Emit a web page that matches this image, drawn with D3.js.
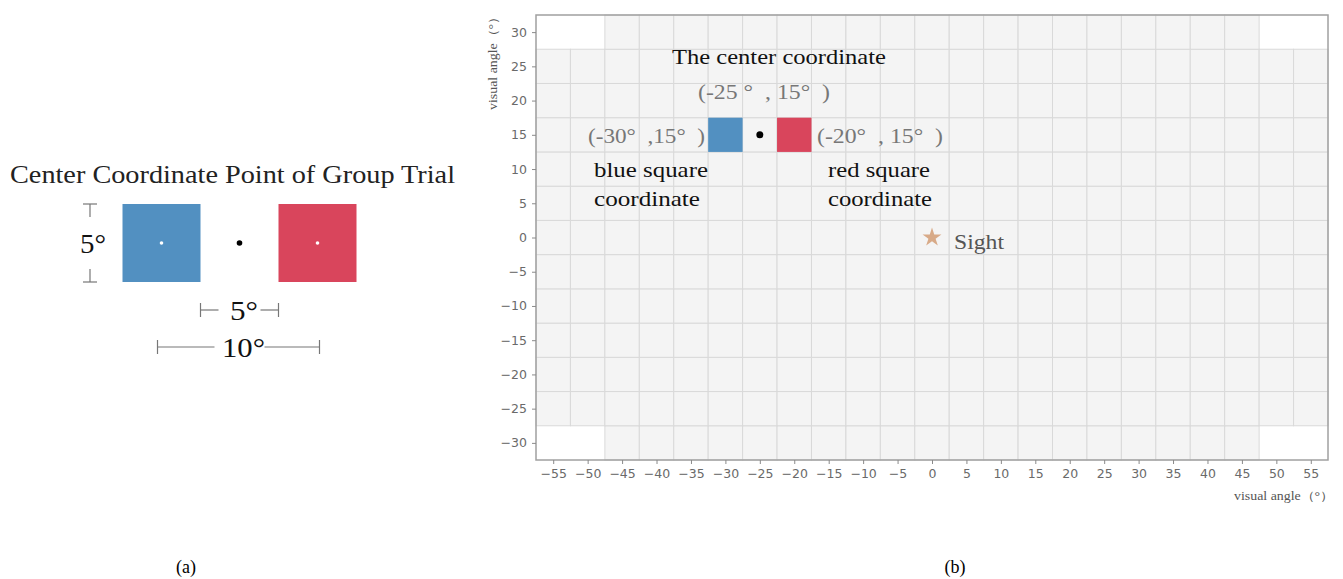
<!DOCTYPE html>
<html>
<head>
<meta charset="utf-8">
<script src="https://cdn.jsdelivr.net/npm/d3@7"></script>
<style>
  html, body { margin: 0; padding: 0; background: #fff; }
  svg { display: block; }
  text { white-space: pre; }
</style>
</head>
<body>
<svg id="chart" width="1343" height="579"></svg>
<script>
// Tick values of the visual-angle grid (degrees)
const xTicks = [-55, -50, -45, -40, -35, -30, -25, -20, -15, -10, -5, 0, 5, 10, 15, 20, 25, 30, 35, 40, 45, 50, 55];
const yTicks = [-30, -25, -20, -15, -10, -5, 0, 5, 10, 15, 20, 25, 30];
// Grid cells left empty in the four corners [x, y]
const emptyCells = [[-55, 30], [-50, 30], [50, 30], [55, 30], [-55, -30], [-50, -30], [50, -30], [55, -30]];
// Stimulus squares (centre, degrees) and their size
const squareNames = ["blue", "red"];
const squareX = [-30, -20];
const squareY = [15, 15];
const squareSize = 5;
// Centre point of the group trial and the sight point
const centerPoint = [-25, 15];
const sightPoint = [0, 0];
// Panel (a) schematic: square centres relative to the trial centre
const schemeX = [-5, 5];

const svg = d3.select("#chart");
const serif = "'Liberation Serif', 'DejaVu Serif', serif";
const sans = "'DejaVu Sans', sans-serif";
const colors = { blue: "#5290c1", red: "#d9455c" };

// text helper: fixed-width label in the old-style serif look
function label(g, tx, ty, s, opts = {}) {
  const t = g.append("text").attr("x", tx).attr("y", ty)
    .attr("text-anchor", opts.anchor || "start")
    .attr("font-family", opts.family || serif)
    .attr("font-size", opts.size || 20)
    .attr("fill", opts.fill || "#111")
    .text(s);
  if (opts.width) t.attr("textLength", opts.width).attr("lengthAdjust", "spacingAndGlyphs");
  if (opts.transform) t.attr("transform", opts.transform);
  return t;
}

// ---------- Panel (b): grid in visual angle ----------
const x = d3.scaleLinear().domain([-57.5, 57.5]).range([536, 1328]);
const y = d3.scaleLinear().domain([-32.5, 32.5]).range([460, 15]);
const half = 2.5;

const isEmpty = (cx, cy) => emptyCells.some(c => c[0] === cx && c[1] === cy);
const cells = [];
yTicks.forEach(cy => xTicks.forEach(cx => { if (!isEmpty(cx, cy)) cells.push([cx, cy]); }));

const gB = svg.append("g");
gB.selectAll("rect.cell").data(cells).join("rect")
  .attr("class", "cell")
  .attr("x", d => x(d[0] - half))
  .attr("y", d => y(d[1] + half))
  .attr("width", d => x(d[0] + half) - x(d[0] - half))
  .attr("height", d => y(d[1] - half) - y(d[1] + half))
  .attr("fill", "#f4f4f4")
  .attr("stroke", "#d9d9d9")
  .attr("stroke-width", 1);

// frame
gB.append("rect")
  .attr("x", x(-57.5)).attr("y", y(32.5))
  .attr("width", x(57.5) - x(-57.5)).attr("height", y(-32.5) - y(32.5))
  .attr("fill", "none").attr("stroke", "#a0a0a0").attr("stroke-width", 1.5);

// axes
const xAxis = gB.append("g").attr("transform", `translate(0,${y(-32.5)})`)
  .call(d3.axisBottom(x).tickValues(xTicks).tickSize(4).tickPadding(5).tickFormat(d3.format("d")));
const yAxis = gB.append("g").attr("transform", `translate(${x(-57.5)},0)`)
  .call(d3.axisLeft(y).tickValues(yTicks).tickSize(4).tickPadding(5).tickFormat(d3.format("d")));
[xAxis, yAxis].forEach(a => {
  a.select(".domain").remove();
  a.selectAll(".tick line").attr("stroke", "#8a8a8a");
  a.selectAll(".tick text").attr("fill", "#6a6a6a").attr("font-family", sans).attr("font-size", 12.5);
});

label(gB, 0, 0, "visual angle（°）", { anchor: "middle", size: 12, fill: "#555", width: 100,
  transform: "translate(497,60) rotate(-90)" });
label(gB, 1334, 500, "visual angle（°）", { anchor: "end", size: 12, fill: "#555", width: 100 });

// squares
const sq = squareNames.map((n, i) => ({ name: n, cx: squareX[i], cy: squareY[i] }));
gB.selectAll("rect.sq").data(sq).join("rect")
  .attr("class", "sq")
  .attr("x", d => x(d.cx - squareSize / 2))
  .attr("y", d => y(d.cy + squareSize / 2))
  .attr("width", d => x(d.cx + squareSize / 2) - x(d.cx - squareSize / 2))
  .attr("height", d => y(d.cy - squareSize / 2) - y(d.cy + squareSize / 2))
  .attr("fill", d => colors[d.name]);

gB.append("circle").attr("cx", x(centerPoint[0])).attr("cy", y(centerPoint[1])).attr("r", 3.5).attr("fill", "#000");

// sight star
gB.append("path")
  .attr("d", d3.symbol().type(d3.symbolStar).size(110)())
  .attr("transform", `translate(${x(sightPoint[0])},${y(sightPoint[1])})`)
  .attr("fill", "#d8aa88");
label(gB, x(sightPoint[0]) + 22, y(sightPoint[1]) + 11, "Sight", { size: 21, fill: "#555", width: 50 });

// annotations
label(gB, 672, 64, "The center coordinate", { size: 21, width: 214 });
label(gB, 698, 99, "(-25 °  , 15°  )", { size: 21, fill: "#777", width: 132 });
label(gB, 588, 143, "(-30°  ,15°  )", { size: 21, fill: "#777", width: 117 });
label(gB, 817, 143, "(-20°  , 15°  )", { size: 21, fill: "#777", width: 126 });
label(gB, 594, 177, "blue square", { size: 21, width: 114 });
label(gB, 594, 206, "coordinate", { size: 21, width: 106 });
label(gB, 828, 177, "red square", { size: 21, width: 102 });
label(gB, 828, 206, "coordinate", { size: 21, width: 104 });

// ---------- Panel (a): schematic ----------
const xa = d3.scaleLinear().domain([-10, 10]).range([83.5, 395.5]);
const ya = d3.scaleLinear().domain([-10, 10]).range([399, 87]);
const gA = svg.append("g");

label(gA, 10, 183, "Center Coordinate Point of Group Trial", { size: 26, fill: "#222", width: 445 });

const sqA = squareNames.map((n, i) => ({ name: n, cx: schemeX[i], cy: 0 }));
gA.selectAll("rect.sqa").data(sqA).join("rect")
  .attr("x", d => xa(d.cx - squareSize / 2))
  .attr("y", d => ya(d.cy + squareSize / 2))
  .attr("width", d => xa(d.cx + squareSize / 2) - xa(d.cx - squareSize / 2))
  .attr("height", d => ya(d.cy - squareSize / 2) - ya(d.cy + squareSize / 2))
  .attr("fill", d => colors[d.name]);
gA.selectAll("circle.wd").data(sqA).join("circle")
  .attr("cx", d => xa(d.cx)).attr("cy", d => ya(d.cy)).attr("r", 1.8).attr("fill", "#fff");
gA.append("circle").attr("cx", xa(0)).attr("cy", ya(0)).attr("r", 2.8).attr("fill", "#000");

const dimColor = "#777";
const line = (x1, y1, x2, y2) => gA.append("line").attr("x1", x1).attr("y1", y1).attr("x2", x2).attr("y2", y2)
  .attr("stroke", dimColor).attr("stroke-width", 1.2);

// vertical 5° dimension
const vx = 90;
const vTop = ya(2.5), vBot = ya(-2.5);
line(vx - 7, vTop, vx + 7, vTop);
line(vx, vTop, vx, vTop + 13);
line(vx, vBot - 13, vx, vBot);
line(vx - 7, vBot, vx + 7, vBot);
label(gA, 80, ya(0) + 10, "5°", { size: 28, width: 26 });

// horizontal 5° dimension (gap between squares)
const h1y = 310;
const gl = xa(-2.5), gr = xa(2.5);
line(gl, h1y - 7, gl, h1y + 7);
line(gl, h1y, gl + 18, h1y);
line(gr - 18, h1y, gr, h1y);
line(gr, h1y - 7, gr, h1y + 7);
label(gA, 230, h1y + 10, "5°", { size: 28, width: 28 });

// horizontal 10° dimension (between square centres)
const h2y = 347;
const cl = xa(-5) - 4, cr = xa(5) + 2;
line(cl, h2y - 7, cl, h2y + 7);
line(cl, h2y, xa(0) - 25, h2y);
line(xa(0) + 25, h2y, cr, h2y);
line(cr, h2y - 7, cr, h2y + 7);
label(gA, 222, h2y + 10, "10°", { size: 28, width: 43 });

// captions
label(svg, 186, 573, "(a)", { anchor: "middle", size: 18, fill: "#000" });
label(svg, 955, 573, "(b)", { anchor: "middle", size: 18, fill: "#000" });
</script>
</body>
</html>
